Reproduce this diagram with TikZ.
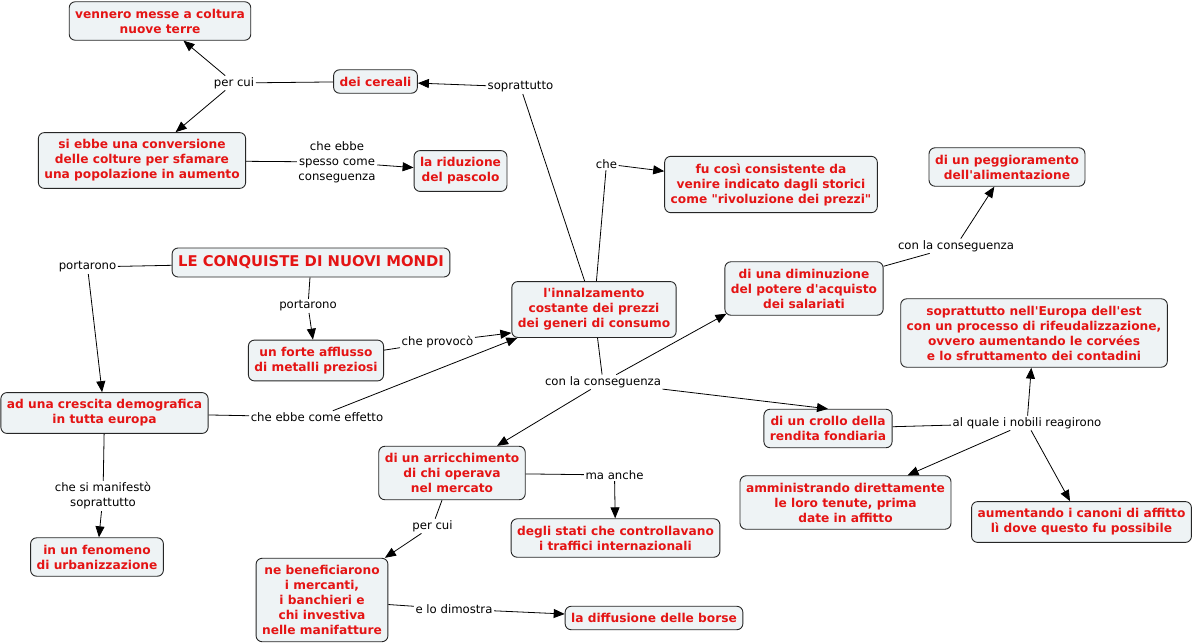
\documentclass[tikz,border=0pt]{standalone}
\usepackage{fontspec}
\setmainfont{DejaVu Sans}[Ligatures=TeXOff]
\usetikzlibrary{arrows.meta}
\definecolor{cptfill}{RGB}{238,243,245}
\definecolor{cptred}{RGB}{228,20,20}
\tikzset{
  cpt/.style ={rectangle, rounded corners=6pt, draw=black!85, line width=0.9pt, fill=cptfill, text=cptred, align=center, inner xsep=6pt, inner ysep=7pt, font=\bfseries\fontsize{12.2}{15}\selectfont},
  ttl/.style ={cpt, inner ysep=5pt, minimum height=29pt, font=\bfseries\fontsize{14.8}{15}\selectfont},
  lnk/.style ={align=center, inner sep=1.5pt, font=\fontsize{11.7}{15}\selectfont},
  fl/.style  ={-{Triangle[length=11pt,width=9pt]}, line width=0.8pt},
  ln/.style  ={line width=0.8pt},
}
\begin{document}
\begin{tikzpicture}[x=1pt, y=-1pt]
  \useasboundingbox (0,0) rectangle (1193,643);
  \fill[white] (0,0) rectangle (1193,643);
  % concetti
  \node[cpt] (terre) at (160,21) {vennero messe a coltura\\nuove terre};
  \node[cpt] (cereali) at (375.5,81.5) {dei cereali};
  \node[cpt] (conv) at (142,160.5) {si ebbe una conversione\\delle colture per sfamare\\una popolazione in aumento};
  \node[cpt] (pascolo) at (460.5,171) {la riduzione\\del pascolo};
  \node[cpt] (rivol) at (771,184.5) {fu così consistente da\\venire indicato dagli storici\\come "rivoluzione dei prezzi"};
  \node[cpt] (peggio) at (1007,167) {di un peggioramento\\dell'alimentazione};
  \node[ttl] (conquiste) at (311,262.5) {LE CONQUISTE DI NUOVI MONDI};
  \node[cpt] (prezzi) at (594,309.5) {l'innalzamento\\costante dei prezzi\\dei generi di consumo};
  \node[cpt] (salari) at (804,288.5) {di una diminuzione\\del potere d'acquisto\\dei salariati};
  \node[cpt] (rifeud) at (1034,333) {soprattutto nell'Europa dell'est\\con un processo di rifeudalizzazione,\\ovvero aumentando le corvées\\e lo sfruttamento dei contadini};
  \node[cpt] (metalli) at (316,360.5) {un forte afflusso\\di metalli preziosi};
  \node[cpt] (demog) at (104.5,413) {ad una crescita demografica\\in tutta europa};
  \node[cpt] (rendita) at (828,428.5) {di un crollo della\\rendita fondiaria};
  \node[cpt] (arricch) at (452,473) {di un arricchimento\\di chi operava\\nel mercato};
  \node[cpt] (amminis) at (845.5,502.5) {amministrando direttamente\\le loro tenute, prima\\date in affitto};
  \node[cpt] (canoni) at (1081.5,522) {aumentando i canoni di affitto\\lì dove questo fu possibile};
  \node[cpt] (stati) at (615.5,538) {degli stati che controllavano\\i traffici internazionali};
  \node[cpt] (urban) at (97,557) {in un fenomeno\\di urbanizzazione};
  \node[cpt] (mercanti) at (322,600) {ne beneficiarono\\i mercanti,\\i banchieri e\\chi investiva\\nelle manifatture};
  \node[cpt] (borse) at (654,618) {la diffusione delle borse};
  % frasi di legame
  \node[lnk] (percui1) at (234,83) {per cui};
  \node[lnk] (sopr) at (520.5,87) {soprattutto};
  \node[lnk] (spesso) at (337,162) {che ebbe\\spesso come\\conseguenza};
  \node[lnk] (che) at (606.5,164) {che};
  \node[lnk] (cons1) at (956,246) {con la conseguenza};
  \node[lnk] (port1) at (87.5,267) {portarono};
  \node[lnk] (port2) at (308,306) {portarono};
  \node[lnk] (provoc) at (437.5,342) {che provocò};
  \node[lnk] (effetto) at (317,417) {che ebbe come effetto};
  \node[lnk] (cons2) at (603,382) {con la conseguenza};
  \node[lnk] (nobili) at (1027,423) {al quale i nobili reagirono};
  \node[lnk] (anche) at (614.5,475) {ma anche};
  \node[lnk] (manif) at (103,496) {che si manifestò\\soprattutto};
  \node[lnk] (percui2) at (432.5,526) {per cui};
  \node[lnk] (dimostra) at (454,609) {e lo dimostra};
  % collegamenti
  \draw[ln] (cereali) -- (percui1);
  \draw[fl] (percui1) -- (terre);
  \draw[fl] (percui1) -- (conv);
  \draw[ln] (prezzi) -- (sopr);
  \draw[fl] (sopr) -- (cereali);
  \draw[ln] (conv) -- (spesso);
  \draw[fl] (spesso) -- (pascolo);
  \draw[ln] (prezzi) -- (che);
  \draw[fl] (che) -- (rivol);
  \draw[ln] (salari) -- (cons1);
  \draw[fl] (cons1) -- (peggio);
  \draw[ln] (conquiste) -- (port1);
  \draw[fl] (port1) -- (demog);
  \draw[ln] (conquiste) -- (port2);
  \draw[fl] (port2) -- (metalli);
  \draw[ln] (metalli) -- (provoc);
  \draw[fl] (provoc) -- ([yshift=5pt]prezzi.south west);
  \draw[ln] (demog) -- (effetto);
  \draw[fl] (effetto) -- ([xshift=6pt]prezzi.south west);
  \draw[ln] (prezzi) -- (cons2);
  \draw[fl] (cons2) -- ([xshift=2pt,yshift=2pt]salari.south west);
  \draw[fl] (cons2) -- (rendita.north);
  \draw[fl] (cons2) -- (arricch);
  \draw[ln] (rendita) -- (nobili);
  \draw[fl] (nobili) -- (amminis);
  \draw[fl] (nobili) -- (canoni);
  \draw[fl] (nobili) -- (rifeud);
  \draw[ln] (arricch) -- (anche);
  \draw[fl] (anche) -- (stati);
  \draw[ln] (arricch) -- (percui2);
  \draw[fl] (percui2) -- (mercanti);
  \draw[ln] (demog) -- (manif);
  \draw[fl] (manif) -- (urban);
  \draw[ln] (mercanti) -- (dimostra);
  \draw[fl] (dimostra) -- (borse);
\end{tikzpicture}
\end{document}
